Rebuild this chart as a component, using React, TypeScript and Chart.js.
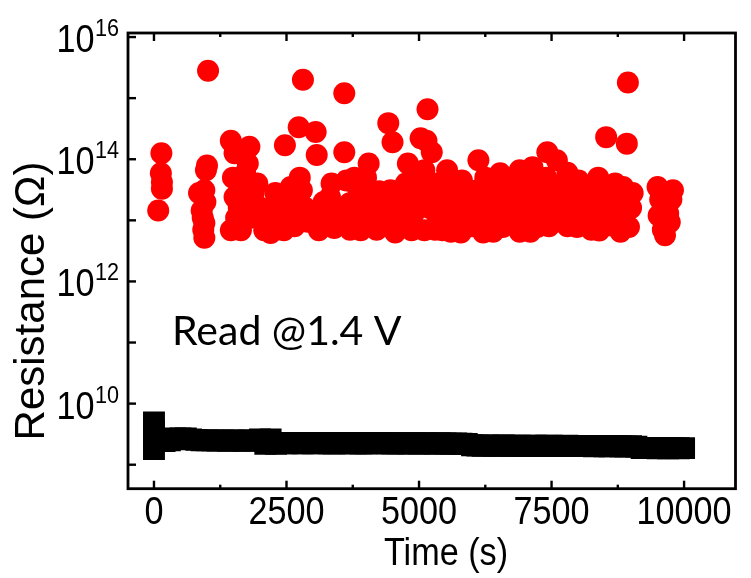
import React, { useEffect, useRef } from 'react';
import { Chart, registerables } from 'chart.js';

Chart.register(...registerables);

// ---- Data ----
// High-resistance state (red circles): time in seconds, resistance in ohms
const redTime = [
  140, 130, 150, 150, 80,
  1020, 1000, 980, 850, 950, 900, 950, 950, 930, 920, 970,
  1450, 1520, 1800, 1490, 1770, 1520, 1550, 1640, 1950, 2010, 2080, 1450, 1770, 1830, 1720, 1600, 1700, 1880, 1950, 1600,
  2290, 2450, 2450, 2200, 2470, 2730, 3050, 3070, 2750, 2790, 2810, 2350, 2550, 2650, 2600, 2850, 2900, 2580, 2750,
  3590, 3590, 3630, 3320, 3130, 3110, 3780, 3690, 3250, 3400, 3450, 3550, 3700, 3200,
  4050, 4000, 3940, 3900, 4150, 4420, 4100, 4250, 4200, 3850,
  4420, 4500, 4460, 4350, 4600, 4650, 4550, 4300, 4700, 4750,
  5160, 5030, 5240, 4790, 4860, 5140, 5100, 5100, 4900, 5000, 5050, 5200, 5250, 4950,
  5530, 5810, 5440, 5790, 5350, 5400, 5500, 5600, 5650, 5700, 5900, 5950, 5350,
  6120, 6210, 6530, 6580, 6050, 6100, 6200, 6300, 6350, 6400, 6450, 6500, 6550, 6250,
  6900, 7140, 7420, 7230, 6650, 6700, 6750, 6800, 6850, 6950, 7000, 7050, 7100, 7200, 7300, 7350, 7400,
  7600, 7640, 8010, 7980, 7500, 7550, 7700, 7750, 7800, 7850, 7900, 8100, 8150, 7450,
  8380, 8530, 8940, 8920, 9030, 9000, 8960, 8590, 8250, 8300, 8450, 8500, 8650, 8700, 8750, 8800, 8850, 8250,
  9500, 9790, 9640, 9730, 9640, 9550, 9700, 9600, 9760, 9520,
  2100, 2400, 3000, 3350, 3500, 3800, 4000, 4500, 4800, 5300, 5600, 6000, 6400, 6900, 7100, 7800, 8400, 8800,
];
const redResistance = [
  1.25e14, 5.9e13, 4.2e13, 3.3e13, 1.45e13,
  2.8e15, 7.9e13, 6.6e13, 2.8e13, 3.1e13, 1.45e13, 9.0e12, 5.2e12, 7.0e12, 1.1e13, 2.0e13,
  2.0e14, 1.25e14, 1.6e14, 5.0e13, 8.5e13, 2.4e13, 1.1e13, 6.9e12, 4.0e13, 1.6e13, 6.9e12, 6.9e12, 2.4e13, 1.1e13, 5.9e13, 1.6e13, 3.5e13, 2.8e13, 1.3e13, 9.0e12,
  2.8e13, 1.1e13, 6.9e12, 6.2e12, 1.7e14, 3.35e14, 2.8e14, 1.17e14, 5.0e13, 3.1e13, 2.0e15, 1.6e13, 2.0e13, 8.0e12, 1.3e13, 1.6e13, 9.5e12, 3.5e13, 1.9e13,
  1.2e15, 1.3e14, 4.5e13, 2.4e13, 1.45e13, 6.9e12, 5.0e13, 1.9e13, 1.0e13, 7.5e12, 1.6e13, 9.0e12, 7.0e12, 2.0e13,
  8.5e13, 5.0e13, 1.9e13, 6.9e12, 2.4e13, 1.3e13, 1.1e13, 3.0e13, 7.0e12, 3.3e13,
  3.9e14, 1.9e14, 3.1e13, 1.9e13, 2.2e13, 9.0e12, 6.3e12, 8.0e12, 1.4e13, 4.0e13,
  6.6e14, 2.2e14, 1.3e14, 8.5e13, 6.9e12, 2.0e14, 6.6e13, 6.9e12, 1.3e13, 2.4e13, 4.0e13, 1.6e13, 3.1e13, 5.0e13,
  6.6e13, 4.5e13, 6.9e12, 6.3e12, 1.1e13, 2.4e13, 1.5e13, 3.5e13, 9.0e12, 2.0e13, 1.2e13, 2.8e13, 4.0e13,
  9.6e13, 6.3e12, 5.9e13, 7.8e12, 1.6e13, 3.1e13, 2.0e13, 1.1e13, 4.0e13, 2.4e13, 9.0e12, 1.5e13, 3.0e13, 5.0e13,
  6.6e13, 7.4e13, 1.3e14, 7.8e12, 2.0e13, 4.5e13, 1.2e13, 2.8e13, 8.0e12, 1.6e13, 3.5e13, 1.0e13, 2.2e13, 4.5e13, 1.4e13, 2.8e13, 5.0e13,
  9.6e13, 1.0e13, 4.5e13, 7.8e12, 2.0e13, 3.5e13, 1.6e13, 2.8e13, 6.0e13, 1.2e13, 2.2e13, 1.5e13, 3.0e13, 8.0e12,
  5.0e13, 2.3e14, 1.8e15, 1.8e14, 2.8e13, 1.6e13, 7.8e12, 8.3e12, 1.1e13, 2.2e13, 1.4e13, 3.0e13, 1.8e13, 4.0e13, 1.0e13, 2.5e13, 3.5e13, 7.0e12,
  3.5e13, 3.1e13, 1.6e13, 9.3e12, 5.7e12, 2.2e13, 1.3e13, 7.0e12, 2.2e13, 1.2e13,
  1.0e13, 2.2e13, 1.0e13, 4.0e13, 1.3e13, 1.0e13, 1.4e13, 1.0e13, 2.0e13, 7.0e12, 6.5e12, 8.0e12, 6.5e12, 6.5e12, 6.5e12, 8.0e12, 6.8e12, 6.5e12,
];

// Low-resistance state (black squares)
const blackTime = [
  0, 0, 0, 0,
  100, 200, 300, 400, 500, 600, 700, 800, 900,
  1000, 1100, 1200, 1300, 1400, 1500, 1600, 1700, 1800, 1900,
  2000, 2100, 2200, 2300, 2400, 2500, 2600, 2700, 2800, 2900,
  3000, 3100, 3200, 3300, 3400, 3500, 3600, 3700, 3800, 3900,
  4000, 4100, 4200, 4300, 4400, 4500, 4600, 4700, 4800, 4900,
  5000, 5100, 5200, 5300, 5400, 5500, 5600, 5700, 5800, 5900,
  6000, 6100, 6200, 6300, 6400, 6500, 6600, 6700, 6800, 6900,
  7000, 7100, 7200, 7300, 7400, 7500, 7600, 7700, 7800, 7900,
  8000, 8100, 8200, 8300, 8400, 8500, 8600, 8700, 8800, 8900,
  9000, 9100, 9200, 9300, 9400, 9500, 9600, 9700, 9800, 9900,
  10000,
];
const blackResistance = [
  4.9e9, 3.6e9, 2.6e9, 1.8e9,
  2.45e9, 2.45e9, 2.5e9, 2.7e9, 2.7e9, 2.7e9, 2.6e9, 2.55e9, 2.5e9,
  2.5e9, 2.5e9, 2.48e9, 2.5e9, 2.47e9, 2.5e9, 2.48e9, 2.46e9, 2.5e9, 2.48e9,
  2.6e9, 2.2e9, 2.6e9, 2.2e9, 2.28e9, 2.25e9, 2.27e9, 2.25e9, 2.24e9, 2.26e9,
  2.25e9, 2.24e9, 2.26e9, 2.25e9, 2.23e9, 2.25e9, 2.26e9, 2.24e9, 2.25e9, 2.23e9,
  2.25e9, 2.24e9, 2.26e9, 2.25e9, 2.24e9, 2.23e9, 2.25e9, 2.24e9, 2.22e9, 2.24e9,
  2.23e9, 2.24e9, 2.22e9, 2.23e9, 2.24e9, 2.22e9, 2.21e9, 2.22e9, 2.2e9, 2.18e9,
  2.08e9, 2.06e9, 2.05e9, 2.07e9, 2.05e9, 2.04e9, 2.06e9, 2.05e9, 2.04e9, 2.05e9,
  2.03e9, 2.05e9, 2.04e9, 2.03e9, 2.05e9, 2.04e9, 2.02e9, 2.03e9, 2.04e9, 2.02e9,
  2.03e9, 2.02e9, 2.03e9, 2.01e9, 2.02e9, 2.0e9, 2.01e9, 2.02e9, 2.0e9, 1.99e9,
  2.0e9, 1.98e9, 1.88e9, 1.87e9, 1.88e9, 1.86e9, 1.87e9, 1.86e9, 1.87e9, 1.86e9,
  1.87e9,
];

// Axis ticks / labels
const xMajorTicks = [0, 2500, 5000, 7500, 10000];
const xTickLabels = ['0', '2500', '5000', '7500', '10000'];
const xMinorTicks = [1250, 3750, 6250, 8750];
const yTickValues = [1e16, 1e14, 1e12, 1e10];
const yTickExponents = ['16', '14', '12', '10'];
const yMinorTicks = [1e15, 1e13, 1e11, 1e9];

const xTitle = 'Time (s)';
const yTitle = 'Resistance (\u03A9)';
const annotation = 'Read @1.4 V';

const FONT = '"Liberation Sans", Arial, sans-serif';
const SX = 0.9; // horizontal condensation of Arial-like text

function drawText(
  ctx: CanvasRenderingContext2D,
  text: string,
  x: number,
  y: number,
  font: string,
  align: CanvasTextAlign,
  sx: number,
) {
  ctx.save();
  ctx.translate(x, y);
  ctx.scale(sx, 1);
  ctx.font = font;
  ctx.textAlign = align;
  ctx.textBaseline = 'alphabetic';
  ctx.fillText(text, 0, 0);
  ctx.restore();
}

const framePlugin = {
  id: 'framePlugin',
  afterDraw(chart: any) {
    const { ctx, chartArea, scales } = chart;
    const { left, top, right, bottom } = chartArea;
    const x = scales.x;
    const y = scales.y;
    ctx.save();
    ctx.strokeStyle = '#000';
    ctx.fillStyle = '#000';
    ctx.lineCap = 'butt';

    const line = (x1: number, y1: number, x2: number, y2: number) => {
      ctx.beginPath();
      ctx.moveTo(x1, y1);
      ctx.lineTo(x2, y2);
      ctx.stroke();
    };

    // ticks (inward)
    ctx.lineWidth = 2.4;
    xMajorTicks.forEach((v) => {
      const px = x.getPixelForValue(v);
      line(px, bottom, px, bottom - 8);
      line(px, top, px, top + 8);
    });
    xMinorTicks.forEach((v) => {
      const px = x.getPixelForValue(v);
      line(px, bottom, px, bottom - 4);
      line(px, top, px, top + 4);
    });
    [...yTickValues, ...yMinorTicks].forEach((v) => {
      const py = y.getPixelForValue(v);
      line(left, py, left + 8, py);
    });

    // frame
    ctx.lineWidth = 2.8;
    ctx.strokeRect(left, top, right - left, bottom - top);

    // x tick labels
    xMajorTicks.forEach((v, i) => {
      const px = x.getPixelForValue(v);
      drawText(ctx, xTickLabels[i], px, 524, `38px ${FONT}`, 'center', SX);
    });

    // y tick labels: "10" with superscript exponent
    yTickValues.forEach((v, i) => {
      const py = y.getPixelForValue(v);
      const sup = yTickExponents[i];
      const supRight = 119;
      ctx.font = `24px ${FONT}`;
      const supW = ctx.measureText(sup).width * SX;
      drawText(ctx, sup, supRight, py - 1, `24px ${FONT}`, 'right', SX);
      drawText(ctx, '10', supRight - supW - 0.5, py + 15, `38px ${FONT}`, 'right', SX);
    });

    // axis titles
    drawText(ctx, xTitle, 446, 565, `38px ${FONT}`, 'center', SX);

    ctx.save();
    ctx.translate(44, 301);
    ctx.rotate(-Math.PI / 2);
    ctx.font = `42px ${FONT}`;
    ctx.textAlign = 'center';
    ctx.textBaseline = 'alphabetic';
    ctx.fillText(yTitle, 0, 0);
    ctx.restore();

    // annotation
    ctx.font = '41px Lato, "Open Sans", sans-serif';
    ctx.textAlign = 'left';
    ctx.textBaseline = 'alphabetic';
    ctx.fillText(annotation, 172, 345);

    ctx.restore();
  },
};

export default function App() {
  const ref = useRef<HTMLCanvasElement>(null);
  useEffect(() => {
    if (!ref.current) return;
    const chart = new Chart(ref.current, {
      type: 'scatter',
      data: {
        datasets: [
          {
            label: 'HRS',
            data: redTime.map((t, i) => ({ x: t, y: redResistance[i] })),
            pointStyle: 'circle',
            pointRadius: 11,
            pointHoverRadius: 11,
            backgroundColor: '#ff0000',
            borderColor: '#ff0000',
            borderWidth: 0,
          },
          {
            label: 'LRS',
            data: blackTime.map((t, i) => ({ x: t, y: blackResistance[i] })),
            pointStyle: 'rect',
            pointRadius: 15.5,
            pointHoverRadius: 15.5,
            backgroundColor: '#000000',
            borderColor: '#000000',
            borderWidth: 0,
          },
        ],
      },
      options: {
        responsive: false,
        animation: false,
        events: [],
        layout: { padding: { top: 33, right: 3.7, left: 0, bottom: 0 } },
        plugins: { legend: { display: false }, tooltip: { enabled: false } },
        scales: {
          x: {
            type: 'linear',
            min: -490,
            max: 10970,
            ticks: { display: false },
            grid: { display: false },
            border: { display: false },
            afterFit: (s: any) => {
              s.height = 89.3;
            },
          },
          y: {
            type: 'logarithmic',
            min: 4.05e8,
            max: 1.165e16,
            ticks: { display: false },
            grid: { display: false },
            border: { display: false },
            afterFit: (s: any) => {
              s.width = 128;
            },
          },
        },
      } as any,
      plugins: [framePlugin],
    });
    return () => chart.destroy();
  }, []);

  return (
    <div style={{ position: 'fixed', left: 0, top: 0, width: 751, height: 578, background: '#fff' }}>
      <canvas ref={ref} width={751} height={578} style={{ display: 'block' }} />
    </div>
  );
}
